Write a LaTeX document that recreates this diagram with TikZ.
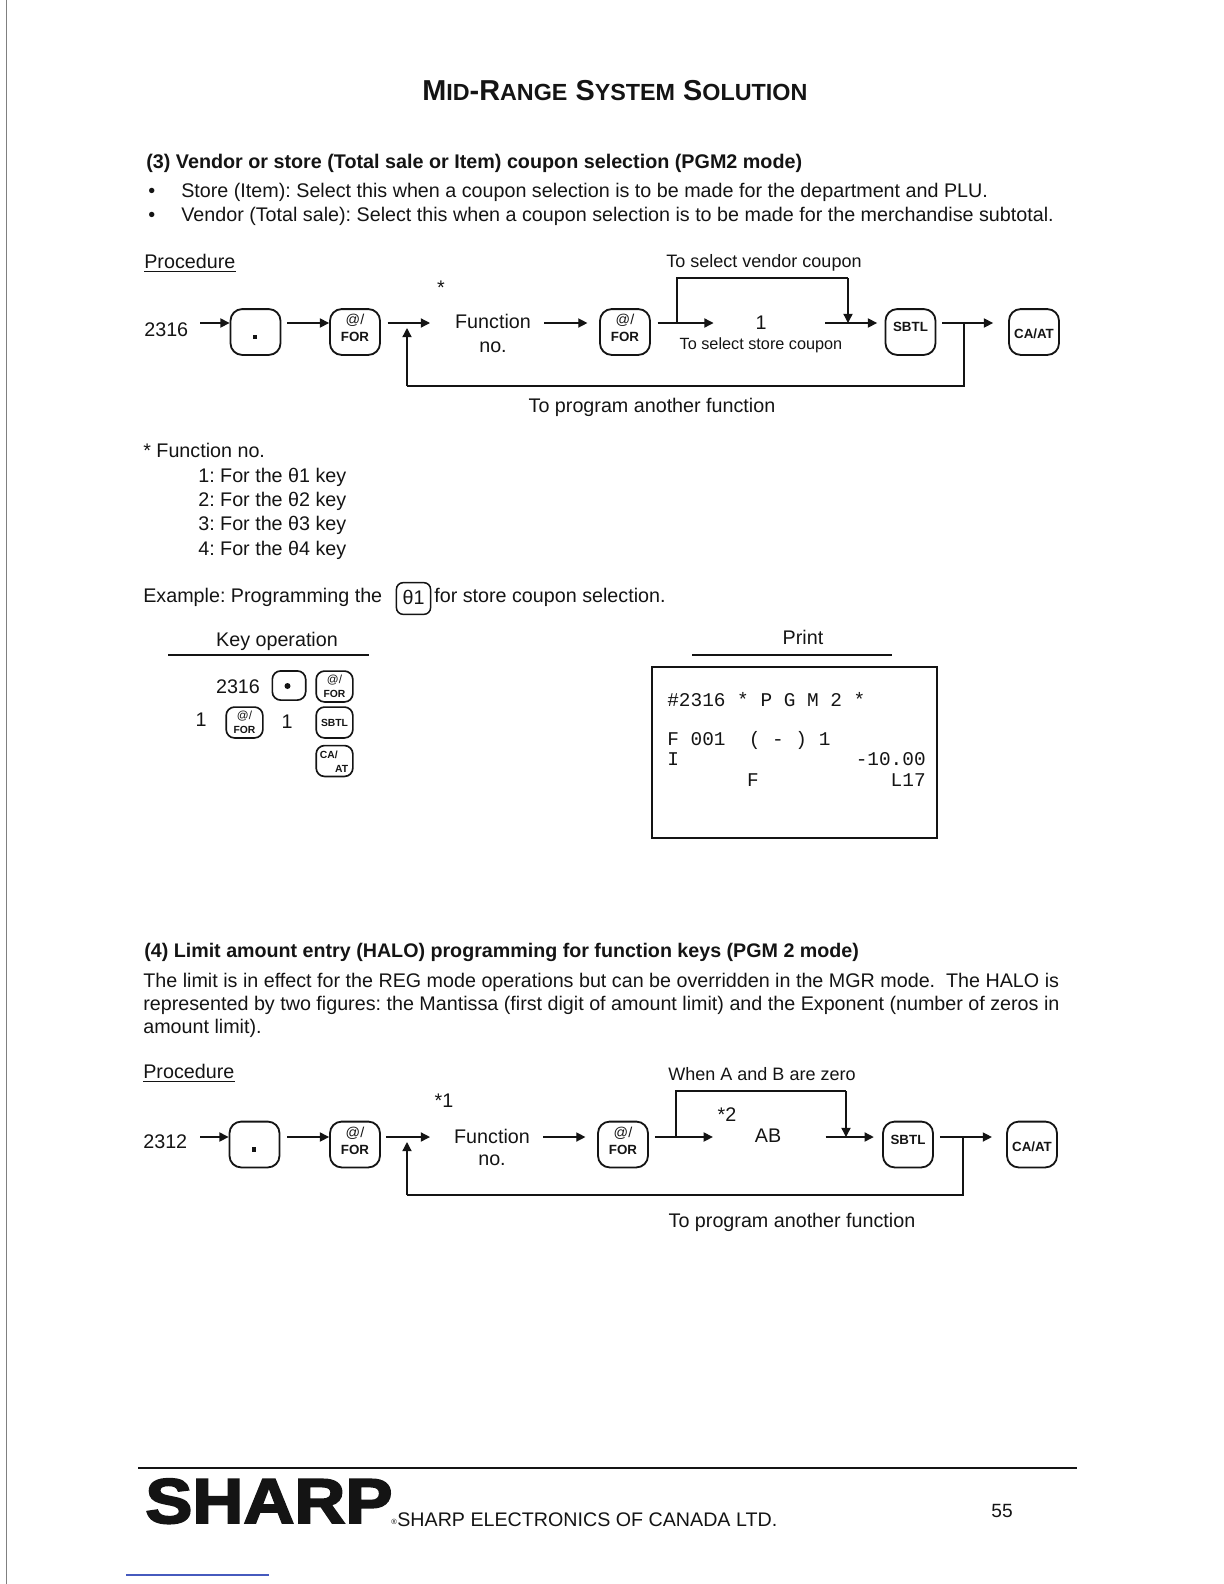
\documentclass[tikz,border=0pt]{standalone}
\usepackage{fontspec}
\setmainfont{Liberation Sans}
\setmonofont{Liberation Mono}
\newfontfamily\logofont[FakeBold=3,FakeStretch=1.115]{Liberation Sans Bold}
\usetikzlibrary{arrows.meta, positioning}
\definecolor{inkk}{gray}{0.08}
\definecolor{edgeblue}{RGB}{70,90,190}
\frenchspacing
\begin{document}
\begin{tikzpicture}[
    x=0.6pt, y=-0.6pt,
    every node/.style={font=\fontsize{11.83}{14}\selectfont, text=inkk, inner sep=0pt},
    tl/.style={anchor=west, text height=0.95em, text depth=0.13em},
    tc/.style={anchor=center, text height=0.95em, text depth=0.13em},
    hd/.style={tl, font=\fontsize{11.85}{14}\selectfont\bfseries},
    sm/.style={tc, font=\fontsize{10.8}{12}\selectfont},
    pr/.style={tl, font=\ttfamily\fontsize{11.65}{14}\selectfont},
    kb/.style={draw=inkk, line width=1.1pt, rounded corners=7pt, minimum width=30pt, minimum height=27.5pt, align=center, font=\fontsize{8}{9.6}\selectfont},
    ks/.style={draw=inkk, line width=1pt, rounded corners=5pt, minimum width=22pt, minimum height=18.5pt, align=center, font=\fontsize{6.2}{7.2}\selectfont},
    a/.style={-{Triangle[length=5.5pt, width=5.5pt]}, draw=inkk, line width=0.8pt},
    ln/.style={draw=inkk, line width=0.8pt},
    rl/.style={draw=inkk, line width=1pt}
]
\def\ff{\raisebox{-5.9pt}[0pt][0pt]{\shortstack{{\fontsize{8.6}{10.2}\selectfont @/}\\[0.6pt]\textbf{FOR}}}}
\def\fs{\raisebox{0.6pt}{\shortstack{{\fontsize{7}{8}\selectfont @/}\\\textbf{FOR}}}}
\def\sb{\raisebox{0.1pt}[0pt][0pt]{\textbf{SBTL}}}
\def\ca{\raisebox{-4.1pt}[0pt][0pt]{\textbf{CA/AT}}}
\useasboundingbox (0,0) rectangle (1224,1584);
\draw[draw=black!50, line width=0.8pt] (6.5,0) -- (6.5,1584);

\node[tl, font=\fontsize{17.3}{20}\selectfont\bfseries] (title) at (422,94) {M{\fontsize{14}{20}\selectfont ID}-R{\fontsize{14}{20}\selectfont ANGE} S{\fontsize{14}{20}\selectfont YSTEM} S{\fontsize{14}{20}\selectfont OLUTION}};

\node[hd] (heada) at (146,162) {(3) Vendor or store (Total sale or Item) coupon selection (PGM2 mode)};
\node[tl] (bula) at (148,191) {•};
\node[tl] (stora) at (181,191) {Store (Item): Select this when a coupon selection is to be made for the department and PLU.};
\node[tl] (bulb) at (148,215) {•};
\node[tl] (vend) at (181,215) {Vendor (Total sale): Select this when a coupon selection is to be made for the merchandise subtotal.};

\node[tl] (proca) at (144,262) {Procedure};
\draw[ln] (proca.south west) -- (proca.south east);
\node[sm] (vtxt) at (764,261) {To select vendor coupon};
\node[tc] (stara) at (441,288) {*};
\node[tl] (numa) at (144,330) {2316};
\node[kb] (dota) at (255.5,332) {};
\node[fill=inkk, minimum size=2.6pt] (dotsqa) at (255,337) {};
\node[kb] (fora) at (355,332) {\ff};
\node[tc] (funa) at (493,322) {Function};
\node[tc] (noa) at (493,346) {no.};
\node[kb] (forb) at (625,332) {\ff};
\node[tc] (onea) at (761,323) {1};
\node[sm, font=\fontsize{9.75}{12}\selectfont] (stxt) at (761,343) {To select store coupon};
\node[kb] (sba) at (910.5,332) {\sb};
\node[kb] (caa) at (1034,332) {\ca};
\node[tc] (proga) at (652,406) {To program another function};
\coordinate (rowa) at (0,323);
\coordinate (taila) at (430,323);
\coordinate (backa) at (407,386);
\coordinate (upa) at (677,278);
\coordinate (upb) at (848,278);
\coordinate (dropa) at (964,386);
\draw[a, shorten <=7pt] (numa.east |- rowa) -- (dota.west |- rowa);
\draw[a, shorten <=3.5pt] (dota.east |- rowa) -- (fora.west |- rowa);
\draw[a, shorten <=4pt] (fora.east |- rowa) -- (taila);
\draw[a, shorten <=8pt, shorten >=7pt] (funa.east |- rowa) -- (forb.west |- rowa);
\draw[a, shorten <=4pt, shorten >=25pt] (forb.east |- rowa) -- (onea.west |- rowa);
\draw[a, shorten <=35pt, shorten >=4.5pt] (onea.east |- rowa) -- (sba.west |- rowa);
\draw[a, shorten <=3.5pt, shorten >=9pt] (sba.east |- rowa) -- (caa.west |- rowa);
\draw[ln] (upa |- rowa) -- (upa) -- (upb);
\draw[a] (upb) -- (upb |- rowa);
\draw[ln] (dropa |- rowa) -- (dropa) -- (backa);
\draw[a, shorten >=3pt] (backa) -- (backa |- rowa);

\node[tl] (fnhd) at (143,451) {* Function no.};
\node[tl] (fna) at (198,476) {1: For the θ1 key};
\node[tl] (fnb) at (198,500) {2: For the θ2 key};
\node[tl] (fnc) at (198,524) {3: For the θ3 key};
\node[tl] (fnd) at (198,549) {4: For the θ4 key};
\node[tl] (exa) at (143,596) {Example: Programming the};
\node[draw=inkk, line width=0.9pt, rounded corners=4pt, minimum width=20.5pt, minimum height=19pt] (keyt) at (413.5,598.5) {\raisebox{1.2pt}{θ1}};
\node[tl] (exb) at (434,596) {for store coupon selection.};

\node[tc] (kop) at (277,640) {Key operation};
\draw[rl] (168,655) -- (369,655);
\node[tc] (kopa) at (238,687) {2316};
\node[ks, minimum width=20pt, minimum height=17.5pt] (kdot) at (289,685.5) {};
\node[circle, fill=inkk, minimum size=3.6pt] (kdotc) at (287.5,686) {};
\node[ks] (kfora) at (334.5,686.5) {\fs};
\node[tc] (konea) at (201,720) {1};
\node[ks] (kforb) at (244.5,722.5) {\fs};
\node[tc] (koneb) at (287,722) {1};
\node[ks] (ksb) at (334.5,722.5) {\textbf{SBTL}};
\node[ks] (kca) at (334.5,761) {};
\node[anchor=north west, font=\fontsize{6.2}{7}\selectfont\bfseries] (kcaa) at (319.5,750.5) {CA/};
\node[anchor=south east, font=\fontsize{6.2}{7}\selectfont\bfseries] (kcab) at (348.5,772.5) {AT};

\node[tc] (ptx) at (803,638) {Print};
\draw[rl] (692,655) -- (892,655);
\node[draw=inkk, line width=1pt, minimum width=171pt, minimum height=102.6pt] (pbox) at (794.5,752.5) {};
\node[pr] (pa) at (667,700) {\#2316 * P G M 2 *};
\node[pr] (pb) at (667,739) {F 001\ \ ( - ) 1};
\node[pr] (pc) at (667,759) {I};
\node[pr, anchor=east] (pd) at (926,759) {-10.00};
\node[pr, anchor=center] (pe) at (753,780) {F};
\node[pr, anchor=east] (pf) at (926,780) {L17};

\node[hd, font=\fontsize{11.8}{14}\selectfont\bfseries] (headb) at (144,951) {(4) Limit amount entry (HALO) programming for function keys (PGM 2 mode)};
\node[tl] (parb) at (143,981) {The limit is in effect for the REG mode operations but can be overridden in the MGR mode.\ \ The HALO is};
\node[tl] (parc) at (143,1004) {represented by two figures: the Mantissa (first digit of amount limit) and the Exponent (number of zeros in};
\node[tl] (pard) at (143,1027) {amount limit).};

\node[tl] (procb) at (143,1072) {Procedure};
\draw[ln] (procb.south west) -- (procb.south east);
\node[sm] (whn) at (762,1074) {When A and B are zero};
\node[tc] (starb) at (444,1101) {*1};
\node[tc] (starc) at (727,1115) {*2};
\node[tl] (numb) at (143,1142) {2312};
\node[kb] (dotb) at (254.5,1144.5) {};
\node[fill=inkk, minimum size=2.6pt] (dotsqb) at (254,1149.5) {};
\node[kb] (forc) at (355,1144.5) {\ff};
\node[tc] (funb) at (492,1137) {Function};
\node[tc] (nob) at (492,1159) {no.};
\node[kb] (ford) at (623,1144.5) {\ff};
\node[tc] (ab) at (768,1136) {AB};
\node[kb] (sbb) at (908,1144.5) {\sb};
\node[kb] (cab) at (1032,1144.5) {\ca};
\node[tc] (progb) at (792,1221) {To program another function};
\coordinate (rowb) at (0,1137);
\coordinate (tailb) at (430,1137);
\coordinate (backb) at (407,1195);
\coordinate (upc) at (676,1091);
\coordinate (upd) at (846,1091);
\coordinate (dropb) at (963,1195);
\draw[a, shorten <=7.5pt] (numb.east |- rowb) -- (dotb.west |- rowb);
\draw[a, shorten <=4pt] (dotb.east |- rowb) -- (forc.west |- rowb);
\draw[a, shorten <=3pt] (forc.east |- rowb) -- (tailb);
\draw[a, shorten <=8pt, shorten >=7pt] (funb.east |- rowb) -- (ford.west |- rowb);
\draw[a, shorten <=3.5pt, shorten >=25pt] (ford.east |- rowb) -- (ab.west |- rowb);
\draw[a, shorten <=26.5pt, shorten >=5pt] (ab.east |- rowb) -- (sbb.west |- rowb);
\draw[a, shorten <=3.5pt, shorten >=8.5pt] (sbb.east |- rowb) -- (cab.west |- rowb);
\draw[ln] (upc |- rowb) -- (upc) -- (upd);
\draw[a] (upd) -- (upd |- rowb);
\draw[ln] (dropb |- rowb) -- (dropb) -- (backb);
\draw[a, shorten >=3pt] (backb) -- (backb |- rowb);

\draw[draw=inkk, line width=1.4pt] (138,1468) -- (1077,1468);
\node[anchor=base west, font=\logofont\fontsize{38}{40}\selectfont] (logo) at (145,1523) {SHARP};
\node[anchor=base west, font=\fontsize{4.5}{5}\selectfont] (regm) at (391,1524) {®};
\node[tl] (canada) at (397,1520) {\fontsize{11.8}{14}\selectfont SHARP ELECTRONICS OF CANADA LTD.};
\node[tc, font=\fontsize{11.5}{14}\selectfont] (pgno) at (1002,1511) {55};
\draw[draw=edgeblue, line width=0.7pt] (126,1575) -- (269,1575);
\end{tikzpicture}
\end{document}
